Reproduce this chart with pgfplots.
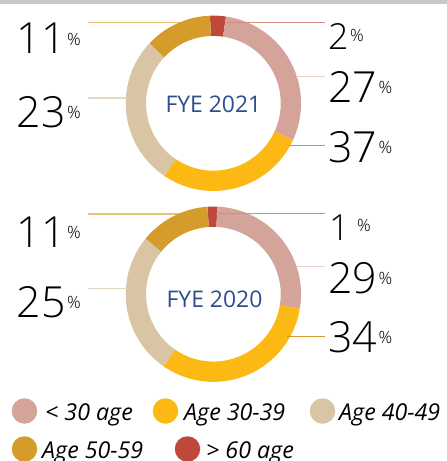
\documentclass[border=0pt]{standalone}
\usepackage{fontspec}
\setmainfont{Open Sans}
\newfontfamily\lightfont{Open Sans Light}
\usepackage{pgfplots}
\pgfplotsset{compat=1.18}
\definecolor{cPink}{HTML}{D4A39A}
\definecolor{cYellow}{HTML}{FDB913}
\definecolor{cBeige}{HTML}{D9C4A3}
\definecolor{cGold}{HTML}{D59B2B}
\definecolor{cRed}{HTML}{BE493A}
\definecolor{cBlue}{HTML}{2B4F8C}
\definecolor{lGold}{HTML}{E9C27A}
\definecolor{lRed}{HTML}{D98A82}
\definecolor{lPink}{HTML}{EBCFC9}
\definecolor{lYellow}{HTML}{D9982F}
\definecolor{lBeige}{HTML}{E3D6C3}
\definecolor{topgray}{HTML}{C8C8CA}

% one ring segment, angles in degrees clockwise from 12 o'clock
\newcommand\seg[5]{%
  \edef\temp{\noexpand\addplot[draw=#1, line width=20.3bp, domain=#4:#5,
    samples=70, variable=\noexpand\t, forget plot]
    ({#2+77.5*sin(\noexpand\t)},{#3-77.5*cos(\noexpand\t)});}\temp}
% donut: cx, cy, start angle, shares (%) of >60, <30, 30-39, 40-49, 50-59
\newcommand\donut[8]{%
  \pgfmathsetmacro\aA{#3}%
  \pgfmathsetmacro\aB{\aA+3.6*#4}%
  \pgfmathsetmacro\aC{\aB+3.6*#5}%
  \pgfmathsetmacro\aD{\aC+3.6*#6}%
  \pgfmathsetmacro\aE{\aD+3.6*#7}%
  \pgfmathsetmacro\aF{\aE+3.6*#8}%
  \seg{cRed}{#1}{#2}{\aA}{\aB}%
  \seg{cPink}{#1}{#2}{\aB}{\aC}%
  \seg{cYellow}{#1}{#2}{\aC}{\aD}%
  \seg{cBeige}{#1}{#2}{\aD}{\aE}%
  \seg{cGold}{#1}{#2}{\aE}{\aF}%
}
\newcommand\bignum[1]{{\lightfont\fontsize{43}{43}\selectfont #1}}
\newcommand\midnum[1]{{\lightfont\fontsize{36}{36}\selectfont #1}}
\newcommand\pc{\hspace{1.5pt}\raisebox{9pt}{\lightfont\fontsize{17}{17}\selectfont\%}}

\begin{document}
\begin{tikzpicture}
\begin{axis}[
  at={(0,0)}, anchor=south west,
  width=447bp, height=461bp, scale only axis,
  xmin=0, xmax=447, ymin=0, ymax=461, y dir=reverse,
  hide axis, clip=false,
]
\coordinate (bl) at (axis cs:0,461);
\coordinate (tr) at (axis cs:447,0);
\fill[topgray] (axis cs:0,0) rectangle (axis cs:447,4.5);

% leader lines that run under the rings
\draw[lGold, line width=1.1bp] (axis cs:88,22.7) -- (axis cs:185,22.7);
\draw[lGold, line width=1.1bp] (axis cs:88,214) -- (axis cs:185,214);

% FYE 2021 (drawn shares)
\donut{213.4}{103.3}{-2.2}{2.9}{29.6}{27.6}{27.5}{12.4}
% FYE 2020 (drawn shares)
\donut{213.4}{294.2}{-3.9}{1.8}{26.9}{32.0}{26.3}{13.0}

\node[text=cBlue, font=\fontsize{23}{23}\selectfont, anchor=base] at (axis cs:213.4,112.8) {FYE 2021};
\node[text=cBlue, font=\fontsize{23}{23}\selectfont, anchor=base] at (axis cs:214.5,307.3) {FYE 2020};

% leader lines 2021
\draw[lBeige, line width=1.1bp] (axis cs:88,98) -- (axis cs:127,98);
\draw[lRed, line width=1.1bp] (axis cs:225,22.7) -- (axis cs:325,22.7);
\draw[lPink, line width=1.1bp] (axis cs:296,76.5) -- (axis cs:325,76.5);
\draw[lYellow, line width=1.1bp] (axis cs:289,145.5) -- (axis cs:325,145.5);
% leader lines 2020
\draw[lBeige, line width=1.1bp] (axis cs:88,288.3) -- (axis cs:127,288.3);
\draw[lRed, line width=1.1bp] (axis cs:216,213.5) -- (axis cs:325,213.5);
\draw[lPink, line width=1.1bp] (axis cs:296,266.7) -- (axis cs:325,266.7);
\draw[lYellow, line width=1.1bp] (axis cs:287,336.7) -- (axis cs:325,336.7);

% labels 2021
\node[anchor=base east, inner sep=0] at (axis cs:81,54) {\bignum{11}\pc};
\node[anchor=base east, inner sep=0] at (axis cs:81,127) {\bignum{23}\pc};
\node[anchor=base west, inner sep=0] at (axis cs:328,50) {\midnum{2}\pc};
\node[anchor=base west, inner sep=0] at (axis cs:328,102) {\bignum{27}\pc};
\node[anchor=base west, inner sep=0] at (axis cs:328,162) {\bignum{37}\pc};
% labels 2020
\node[anchor=base east, inner sep=0] at (axis cs:81,247) {\bignum{11}\pc};
\node[anchor=base east, inner sep=0] at (axis cs:81,317) {\bignum{25}\pc};
\node[anchor=base west, inner sep=0] at (axis cs:329,240) {\midnum{1}\hspace{6pt}\pc};
\node[anchor=base west, inner sep=0] at (axis cs:328,293) {\bignum{29}\pc};
\node[anchor=base west, inner sep=0] at (axis cs:328,352) {\bignum{34}\pc};

% legend
\node[circle, fill=cPink, minimum size=25.5bp, inner sep=0] at (axis cs:24.5,411) {};
\node[circle, fill=cYellow, minimum size=25.5bp, inner sep=0] at (axis cs:165.5,411) {};
\node[circle, fill=cBeige, minimum size=25.5bp, inner sep=0] at (axis cs:322.5,411) {};
\node[circle, fill=cGold, minimum size=25.5bp, inner sep=0] at (axis cs:24.5,449) {};
\node[circle, fill=cRed, minimum size=25.5bp, inner sep=0] at (axis cs:187.5,449) {};
\begin{scope}[every node/.style={anchor=base west, inner sep=0, font=\fontsize{23.3}{23.3}\selectfont\itshape}]
\node at (axis cs:45,420) {< 30 age};
\node at (axis cs:184,420) {Age 30-39};
\node at (axis cs:339,420) {Age 40-49};
\node at (axis cs:42,458) {Age 50-59};
\node at (axis cs:206,458) {> 60 age};
\end{scope}
\end{axis}
\pgfresetboundingbox
\useasboundingbox (bl) rectangle (tr);
\end{tikzpicture}
\end{document}
